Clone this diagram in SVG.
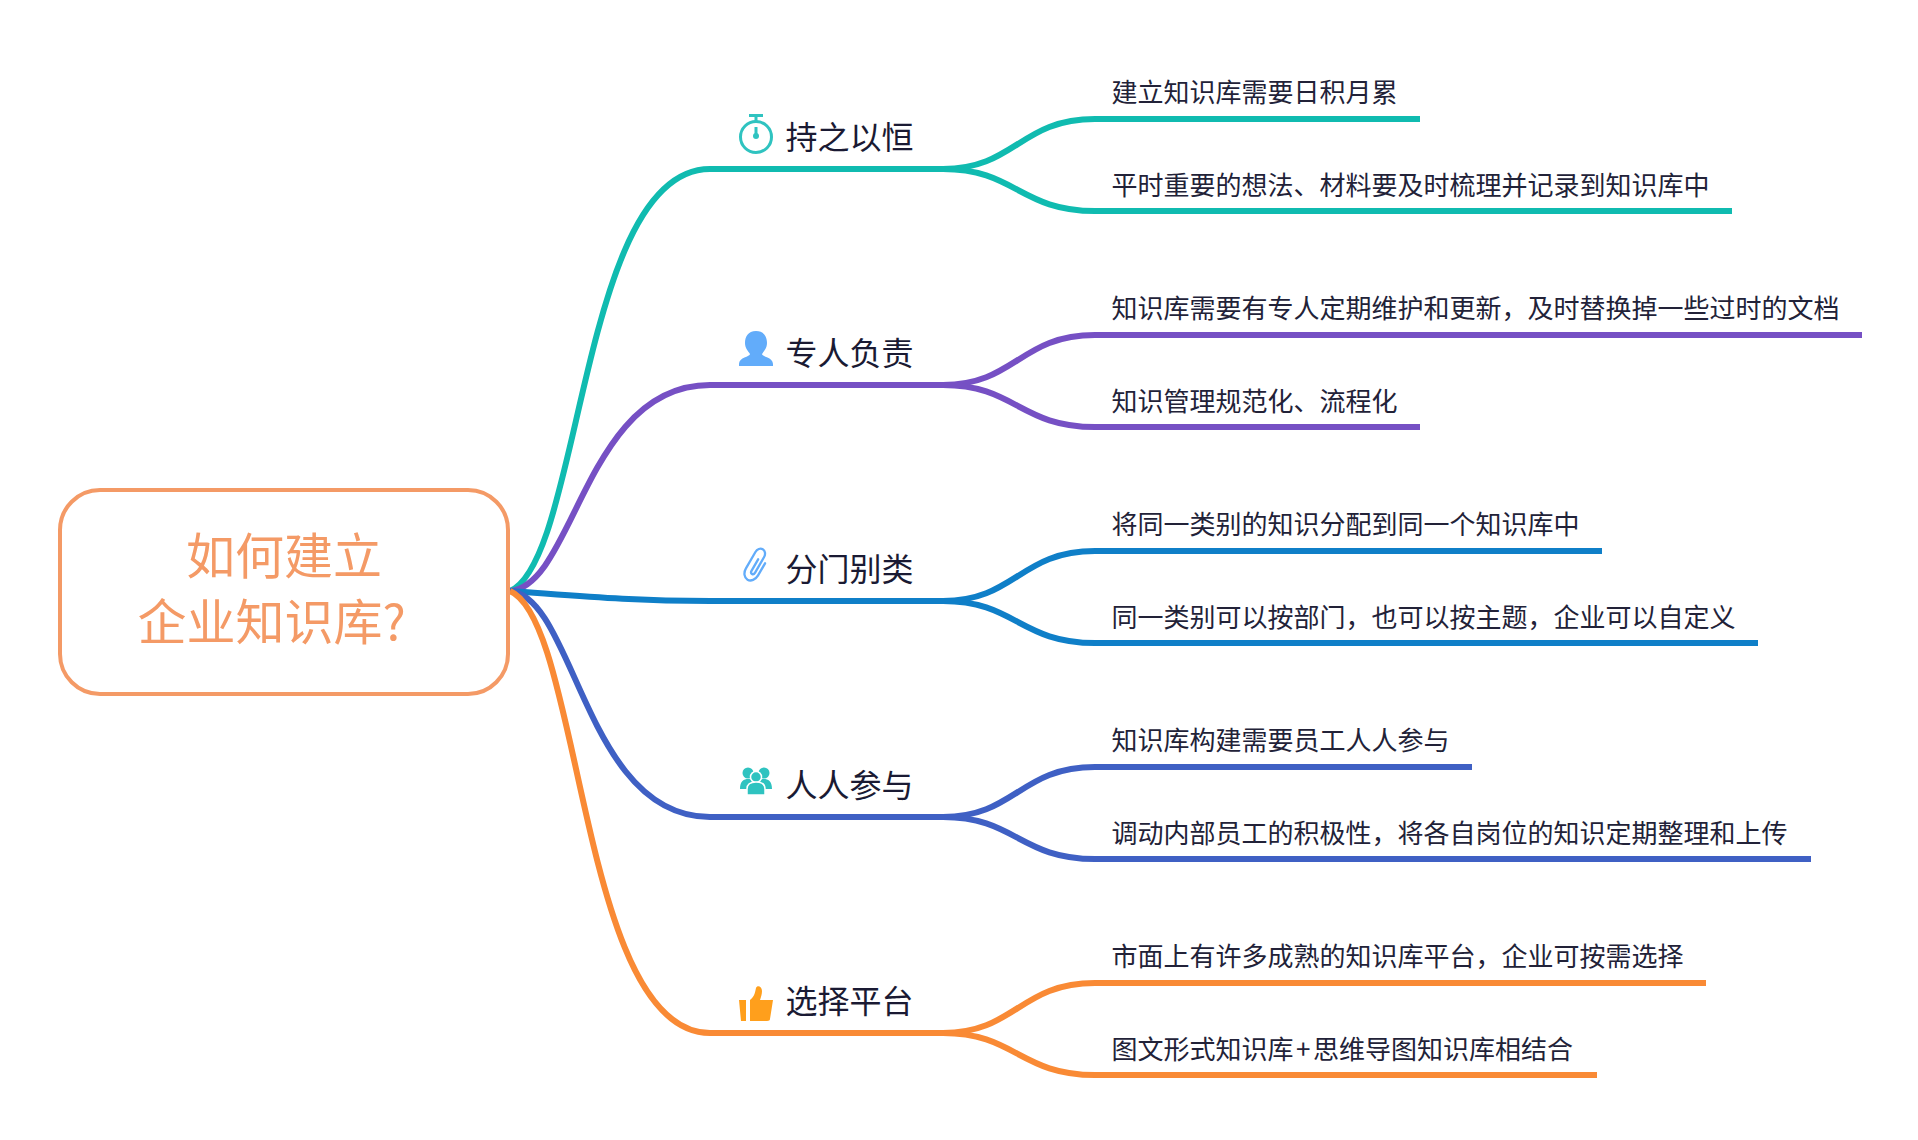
<svg xmlns="http://www.w3.org/2000/svg" width="1918" height="1140" viewBox="0 0 1918 1140">
<style>
text{font-family:"Noto Sans CJK SC","Noto Sans",sans-serif}
.b{font-size:32px;fill:#1a1a33}
.s{font-size:26px;fill:#222238}
.r{font-size:49px;fill:#F49A66;text-anchor:middle}
.c path{fill:none;stroke-width:6;stroke-linecap:butt}
.teal{stroke:#10BBB0}.purple{stroke:#7650C4}.blue{stroke:#0F7FC8}.indigo{stroke:#3F60C4}.orange{stroke:#F98A35}
</style>
<rect width="1918" height="1140" fill="#fff"/>
<g id="connectors" class="c">
<path class="teal" d="M510,591C582,560 580,169 710,169H943C1015,169 1020,119 1095,119H1420"/>
<path class="teal" d="M943,169C1015,169 1020,211 1095,211H1732"/>
<path class="purple" d="M510,591C575,585 585,385 710,385H943C1015,385 1020,335 1095,335H1862"/>
<path class="purple" d="M943,385C1015,385 1020,427 1095,427H1420"/>
<path class="blue" d="M510,591C580,596 630,601 710,601H943C1015,601 1020,551 1095,551H1602"/>
<path class="blue" d="M943,601C1015,601 1020,643 1095,643H1758"/>
<path class="indigo" d="M510,591C575,597 585,817 710,817H943C1015,817 1020,767 1095,767H1472"/>
<path class="indigo" d="M943,817C1015,817 1020,859 1095,859H1811"/>
<path class="orange" d="M510,591C582,622 580,1033 710,1033H943C1015,1033 1020,983 1095,983H1706"/>
<path class="orange" d="M943,1033C1015,1033 1020,1075 1095,1075H1597"/>
</g>
<g id="root"><rect x="60" y="490" width="448" height="204" rx="40" fill="#fff" stroke="#F49A66" stroke-width="4"/>
<text class="r" x="284" y="574">如何建立</text><text class="r" x="271.500" y="640">企业知识库?</text></g>
<g id="n1"><g fill="none" stroke="#2FC3C0" stroke-width="3"><circle cx="756" cy="137" r="15.5"/><path d="M749,115.500H763M756,115.500V121M756,127V136"/></g><circle cx="756" cy="136" r="3" fill="#2FC3C0"/>
<text class="b" x="785.500" y="149">持之以恒</text>
<text class="s" x="1111.500" y="101.500">建立知识库需要日积月累</text>
<text class="s" x="1111.500" y="194.500">平时重要的想法、材料要及时梳理并记录到知识库中</text></g>
<g id="n2"><path fill="#62ACFA" d="M756,331c-8,0-11,6-11,12 0,5 3,8 5,11 0,3-11,3-11,10v2h34v-2c0-7-11-7-11-10 2-3 5-6 5-11 0-6-3-12-11-12z"/>
<text class="b" x="785.500" y="365">专人负责</text>
<text class="s" x="1111.500" y="317.500">知识库需要有专人定期维护和更新，及时替换掉一些过时的文档</text>
<text class="s" x="1111.500" y="410.500">知识管理规范化、流程化</text></g>
<g id="n3"><path transform="translate(756 565) rotate(30)" fill="none" stroke="#62ACFA" stroke-width="2.300" stroke-linecap="round" d="M7,-6V8A7,9 0 0 1 -7,8V-11A5,6 0 0 1 3,-11V7A1.800,2.500 0 0 1 -1,7V-6"/>
<text class="b" x="785.500" y="581">分门别类</text>
<text class="s" x="1111.500" y="533.500">将同一类别的知识分配到同一个知识库中</text>
<text class="s" x="1111.500" y="626.500">同一类别可以按部门，也可以按主题，企业可以自定义</text></g>
<g id="n4"><g fill="#2FC3C0"><circle cx="748" cy="773" r="5.5"/><circle cx="764" cy="773" r="5.5"/><path d="M740,789c0-8 4-10 8-10s8,2 8,10zM756,789c0-8 4-10 8-10s8,2 8,10z"/></g>
<g fill="#2FC3C0" stroke="#fff" stroke-width="1.500"><circle cx="756" cy="777" r="5.500"/><path d="M747,795v-6c0-5 4-7 9-7s9,2 9,7v6z"/></g>
<text class="b" x="785.500" y="797">人人参与</text>
<text class="s" x="1111.500" y="749.500">知识库构建需要员工人人参与</text>
<text class="s" x="1111.500" y="842.500">调动内部员工的积极性，将各自岗位的知识定期整理和上传</text></g>
<g id="n5"><path fill="#FF9F1C" d="M739,1000h7v21h-5zM750,1000c5-4 5-8 6-12 1-3 6-2 6,3 0,3-1,6-2,9h13l-3,19c0,1-1,2-3,2h-17z"/>
<text class="b" x="785.500" y="1013">选择平台</text>
<text class="s" x="1111.500" y="965.500">市面上有许多成熟的知识库平台，企业可按需选择</text>
<text class="s" x="1111.500" y="1058.500">图文形式知识库<tspan dx="2.500">+</tspan><tspan dx="2.500">思维导图知识库相结合</tspan></text></g>
</svg>
